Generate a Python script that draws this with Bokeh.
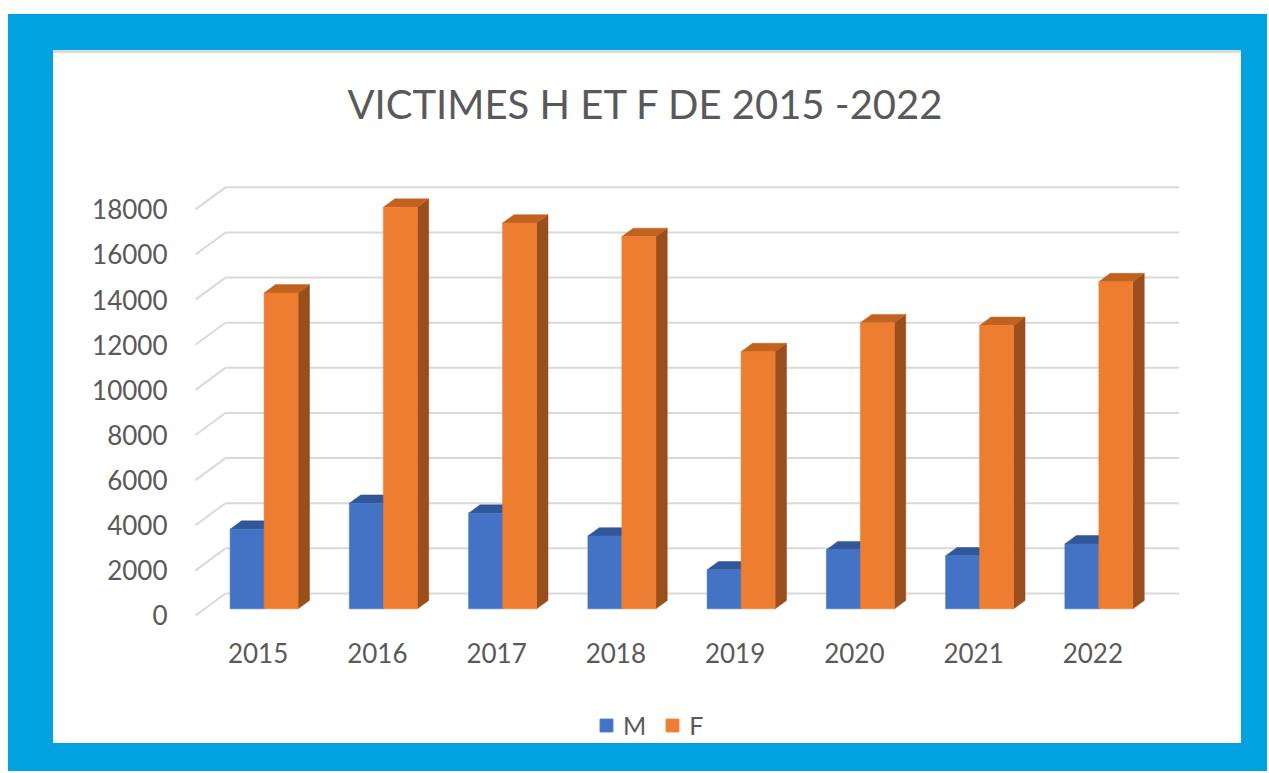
from bokeh.plotting import figure
from bokeh.models import (Range1d, FixedTicker, Legend, LegendItem, Column)
from bokeh.embed import file_html
from bokeh.resources import INLINE

# ---------------- data ----------------
years = ["2015", "2016", "2017", "2018", "2019", "2020", "2021", "2022"]
male = [3530, 4680, 4240, 3230, 1730, 2620, 2350, 2880]
female = [14000, 17800, 17100, 16500, 11400, 12680, 12560, 14500]
y_ticks = [0, 2000, 4000, 6000, 8000, 10000, 12000, 14000, 16000, 18000]
series_names = ["M", "F"]
title_text = "VICTIMES H ET F DE 2015 -2022"

# ---------------- style / geometry ----------------
FONT = "Lato"
TXT = "#595959"
GRID = "#D9D9D9"
FRAME_BLUE = "#02A2E0"
BLUE, BLUE_TOP, BLUE_SIDE = "#4472C4", "#31579A", "#2B4A82"
ORANGE, ORANGE_TOP, ORANGE_SIDE = "#ED7D31", "#C2621F", "#9A4E1C"

EXT = 30                      # canvas extends this much above the white card
W, LH = 1188, 50
H = 693 - LH + EXT
BL, BR, BT, BB = 136, 62, 134 + EXT, 69
n = len(years)
X0, X1 = -0.05, n + 0.2516
Y0, Y1 = -400, 19100
FW, FH = W - BL - BR, H - BT - BB
PX_X = FW / (X1 - X0)
PX_Y = FH / (Y1 - Y0)
DX = 30 / PX_X          # depth of the 3D box (x, data units)
DY = 22 / PX_Y          # depth of the 3D box (y, data units)
BAR_OFF = 0.3           # bar front plane position within depth
BAR_D = 0.38            # bar depth fraction
BW = 34 / PX_X          # bar width

p = figure(width=W, height=H, x_range=Range1d(X0, X1),
           y_range=Range1d(Y0, Y1), output_backend="svg", toolbar_location=None,
           min_border_left=BL, min_border_right=BR, min_border_top=BT,
           min_border_bottom=BB)
p.border_fill_color = None
p.background_fill_color = None
p.outline_line_color = None
p.xgrid.visible = False
p.ygrid.visible = False
p.styles = {"background": (f"linear-gradient({FRAME_BLUE} 0px, {FRAME_BLUE} {EXT}px, "
                           f"#DADADA {EXT}px, #DADADA {EXT + 3}px, #FFFFFF {EXT + 3}px)")}

# title
p.title.text = title_text
p.title.text_font = FONT
p.title.text_font_size = "40px"
p.title.text_font_style = "normal"
p.title.text_color = TXT
p.title.align = "left"
p.title.offset = 158
p.title.standoff = 113

# gridlines on back wall + floor diagonals
gx0, gy0, gx1, gy1 = [], [], [], []
for v in y_ticks:
    gx0 += [0, DX]
    gy0 += [v, v + DY]
    gx1 += [DX, X1]
    gy1 += [v + DY, v + DY]
p.segment(gx0, gy0, gx1, gy1, line_color=GRID, line_width=2)

# bars
base = BAR_OFF * DY
bdx, bdy = BAR_D * DX, BAR_D * DY
for k, (vals, cf, ct, cs) in enumerate([(male, BLUE, BLUE_TOP, BLUE_SIDE),
                                         (female, ORANGE, ORANGE_TOP, ORANGE_SIDE)]):
    lefts, rights, tops = [], [], []
    sx, sy, tx, ty = [], [], [], []
    for i, v in enumerate(vals):
        c = i + 0.5 + BAR_OFF * DX
        l = c - BW if k == 0 else c
        r = l + BW
        t = base + v
        lefts.append(l); rights.append(r); tops.append(t)
        sx.append([r, r + bdx, r + bdx, r])
        sy.append([base, base + bdy, t + bdy, t])
        tx.append([l, r, r + bdx, l + bdx])
        ty.append([t, t, t + bdy, t + bdy])
    p.patches(sx, sy, fill_color=cs, line_color=cs, line_width=0.5)
    p.patches(tx, ty, fill_color=ct, line_color=ct, line_width=0.5)
    p.quad(left=lefts, right=rights, bottom=[base] * n, top=tops,
           fill_color=cf, line_color=cf, line_width=0.5)

# axes
yax = p.yaxis[0]
yax.ticker = FixedTicker(ticks=y_ticks)
yax.axis_line_color = None
yax.major_tick_line_color = None
yax.minor_tick_line_color = None
yax.major_label_standoff = 16
yax.major_label_text_font = FONT
yax.major_label_text_font_size = "26px"
yax.major_label_text_color = TXT

xticks = [i + 0.525 for i in range(n)]
xax = p.xaxis[0]
xax.ticker = FixedTicker(ticks=xticks)
xax.major_label_overrides = {t: y for t, y in zip(xticks, years)}
xax.axis_line_color = None
xax.major_tick_line_color = None
xax.minor_tick_line_color = None
xax.major_label_standoff = 12
xax.major_label_text_font = FONT
xax.major_label_text_font_size = "26px"
xax.major_label_text_color = TXT

# legend strip (separate small figure under the chart); swatch renderers lie
# outside its visible range, only their legend glyphs are shown
lg = figure(width=W, height=LH, x_range=Range1d(0, 1), y_range=Range1d(0, 1),
            output_backend="svg", toolbar_location=None,
            x_axis_location=None, y_axis_location=None,
            min_border_left=0, min_border_right=0, min_border_top=0,
            min_border_bottom=0)
lg.grid.visible = False
lg.outline_line_color = None
lg.border_fill_color = None
lg.background_fill_color = None
lg.styles = {"background-color": "white"}
rm = lg.quad(left=[2], right=[3], bottom=[2], top=[3], fill_color=BLUE, line_color=BLUE)
rf = lg.quad(left=[2], right=[3], bottom=[2], top=[3], fill_color=ORANGE, line_color=ORANGE)
legend = Legend(items=[LegendItem(label=series_names[0], renderers=[rm]),
                       LegendItem(label=series_names[1], renderers=[rf])],
                orientation="horizontal", location=(409, 3))
legend.glyph_width = 16
legend.glyph_height = 16
legend.label_text_font = FONT
legend.label_text_font_size = "25px"
legend.label_text_color = TXT
legend.spacing = 18
legend.label_standoff = 9
legend.padding = 0
legend.margin = 0
legend.border_line_color = None
legend.background_fill_alpha = 0
lg.add_layout(legend, "center")

root = Column(children=[p, lg], spacing=0,
              styles={"background-color": FRAME_BLUE,
                      "padding": f"{36 - EXT}px 26px 28px 45px",
                      "margin-top": "14px",
                      "margin-left": "8px"})

open("out.html", "w").write(file_html(root, INLINE))
